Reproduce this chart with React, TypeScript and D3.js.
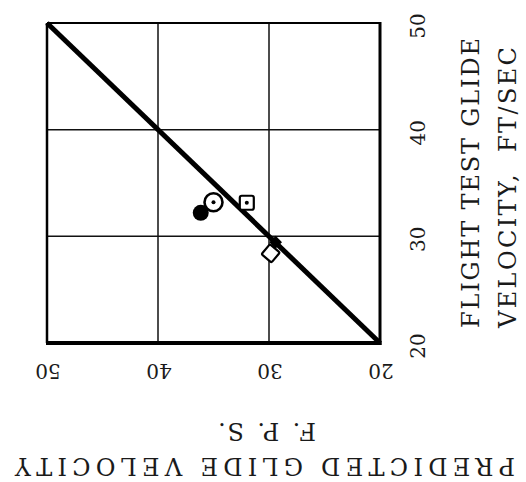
import React from "react";
import * as d3 from "d3";

const xTicks = [50, 40, 30, 20];
const yTicks = [50, 40, 30, 20];
const xDomain = [50, 20];
const yDomain = [50, 20];
const lineX = [50, 20];
const lineY = [50, 20];
const pointNames = ["filledCircle", "dotCircle", "dotSquare", "openDiamond", "filledSmall"];
const predicted = [36.15, 35.0, 32.0, 29.85, 29.4];
const flightTest = [32.2, 33.2, 33.15, 28.4, 29.45];
const xTitleLines = ["PREDICTED GLIDE VELOCITY", "F. P. S."];
const yTitleLines = ["FLIGHT TEST GLIDE", "VELOCITY,  FT/SEC"];

const W = 526;
const H = 482;
const L = 47, R = 380, T = 23, B = 343;
const FONT = "'DejaVu Serif', 'Liberation Serif', serif";

export default function App() {
  const x = d3.scaleLinear().domain(xDomain).range([L, R]);
  const y = d3.scaleLinear().domain(yDomain).range([T, B]);
  const line = d3.line<number>().x((d) => x(lineX[d])).y((d) => y(lineY[d]));

  const marker = (name: string, cx: number, cy: number, i: number) => {
    switch (name) {
      case "filledCircle":
        return <circle key={i} cx={cx} cy={cy} r={8} fill="#000" />;
      case "dotCircle":
        return (
          <g key={i}>
            <circle cx={cx} cy={cy} r={9} fill="#fff" stroke="#000" strokeWidth={2.6} />
            <circle cx={cx} cy={cy} r={2} fill="#000" />
          </g>
        );
      case "dotSquare":
        return (
          <g key={i}>
            <rect x={cx - 7} y={cy - 7} width={14} height={14} rx={2} fill="#fff" stroke="#000" strokeWidth={2.2} />
            <circle cx={cx} cy={cy} r={2} fill="#000" />
          </g>
        );
      case "openDiamond":
        return (
          <rect key={i} x={cx - 6.5} y={cy - 6.5} width={13} height={13} rx={1.5}
            transform={`rotate(40 ${cx} ${cy})`} fill="#fff" stroke="#000" strokeWidth={2.2} />
        );
      case "filledSmall":
        return (
          <rect key={i} x={cx - 4.5} y={cy - 4.5} width={9} height={9}
            transform={`rotate(45 ${cx} ${cy})`} fill="#000" />
        );
      default:
        return null;
    }
  };

  const textStyle = { fill: "#1a1a1a" } as const;

  return (
    <svg width={W} height={H} style={{ position: "absolute", left: 0, top: 0, background: "#fff" }}
      fontFamily={FONT}>
      <rect x={0} y={0} width={W} height={H} fill="#fff" />
      {/* grid */}
      {xTicks.map((t) => (
        <line key={"gx" + t} x1={x(t)} x2={x(t)} y1={T} y2={B} stroke="#111" strokeWidth={1.5} />
      ))}
      {yTicks.map((t) => (
        <line key={"gy" + t} x1={L} x2={R} y1={y(t)} y2={y(t)} stroke="#111" strokeWidth={1.5} />
      ))}
      {/* frame */}
      <line x1={L} x2={L} y1={T} y2={B} stroke="#000" strokeWidth={2.5} />
      <line x1={L} x2={R} y1={T} y2={T} stroke="#000" strokeWidth={1.8} />
      <line x1={R} x2={R} y1={T - 1} y2={B + 2} stroke="#000" strokeWidth={3} />
      <line x1={L - 1} x2={R + 1.5} y1={B} y2={B} stroke="#000" strokeWidth={4} />
      {/* 45 degree line */}
      <path d={line([0, 1]) || ""} stroke="#000" strokeWidth={5} fill="none" />
      {/* points */}
      {pointNames.map((n, i) => marker(n, x(predicted[i]), y(flightTest[i]), i))}
      {/* right tick labels */}
      {yTicks.map((t) => (
        <text key={"ty" + t} transform={`translate(418, ${y(t) + 3}) rotate(-90)`} textAnchor="middle"
          dominantBaseline="central" fontSize={20} {...textStyle}>{t}</text>
      ))}
      {/* bottom tick labels */}
      {xTicks.map((t) => (
        <text key={"tx" + t} transform={`translate(${x(t) + 1}, 371) rotate(180)`} textAnchor="middle"
          dominantBaseline="central" fontSize={20} {...textStyle}>{t}</text>
      ))}
      {/* right title */}
      <text transform="translate(471, 328) rotate(-90)" dominantBaseline="central" fontSize={24}
        textLength={290} lengthAdjust="spacing" {...textStyle}>{yTitleLines[0]}</text>
      <text transform="translate(508, 328) rotate(-90)" dominantBaseline="central" fontSize={24}
        textLength={281} lengthAdjust="spacing" {...textStyle} style={{ whiteSpace: "pre" }}>{yTitleLines[1]}</text>
      {/* bottom title (upside down) */}
      <text transform="translate(515, 466) rotate(180)" dominantBaseline="central" fontSize={24}
        textLength={500} lengthAdjust="spacing" {...textStyle}>{xTitleLines[0]}</text>
      <text transform="translate(316, 431) rotate(180)" dominantBaseline="central" fontSize={24}
        textLength={98} lengthAdjust="spacing" {...textStyle}>{xTitleLines[1]}</text>
    </svg>
  );
}
